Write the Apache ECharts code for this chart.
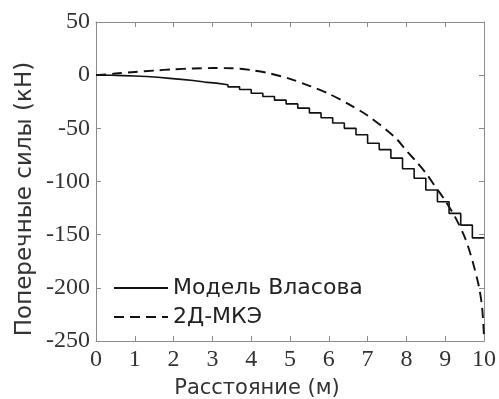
<!DOCTYPE html>
<html>
<head>
<meta charset="utf-8">
<script src="https://cdn.jsdelivr.net/npm/echarts@6/dist/echarts.min.js"></script>
<style>
  html, body { margin: 0; padding: 0; background: #fff; }
  #chart { width: 499px; height: 399px; }
</style>
</head>
<body>
<div id="chart"></div>
<script>
// Vlasov model: piecewise-constant shear force, each value holds from its x to the next x
const vlasovX = [0, 0.1, 0.4, 0.7, 1.0, 1.3, 1.6, 1.9, 2.2, 2.5, 2.8, 3.1, 3.4, 3.7, 4.0, 4.3, 4.6, 4.9,
                 5.2, 5.5, 5.8, 6.1, 6.4, 6.7, 7.0, 7.3, 7.6, 7.9, 8.2, 8.5, 8.8, 9.1, 9.4, 9.7, 10];
const vlasovY = [0, -0.1, -0.4, -0.8, -1.3, -2, -3, -4, -5, -6.5, -7.5, -9, -11, -13.5, -17, -20, -23.5, -27,
                 -31, -35.5, -40, -45, -50, -56, -64, -70, -78, -88, -97, -108, -119, -130, -141, -153, -153];

// 2D FEM: continuous curve
const femX = [0, 0.5, 1, 1.5, 2, 2.5, 3, 3.5, 4, 4.5, 5, 5.5, 6, 6.5, 7, 7.5, 7.75, 8, 8.25, 8.5,
              8.75, 9, 9.25, 9.5, 9.65, 9.75, 9.87, 9.95, 10];
const femY = [0, 1.5, 3, 4.3, 5.5, 6.3, 6.7, 6.5, 4.8, 1.5, -3.5, -10, -17.5, -27, -38, -52, -60, -71, -81, -92,
              -105, -118, -133, -152, -168, -181, -199, -218, -245];

const seriesNames = ['Модель Власова', '2Д-МКЭ'];
const xTitle = 'Расстояние (м)';
const yTitle = 'Поперечные силы (кН)';

const pairs = (xs, ys) => xs.map((x, i) => [x, ys[i]]);

const axisGray = '#8c8c8c';
const serifFont = 'Liberation Serif';
const sansFont = 'DejaVu Sans';

const chart = echarts.init(document.getElementById('chart'), null, { renderer: 'canvas' });

// boxed frame: all four sides with inward ticks
const frameAxis = {
  axisLine: { show: true, onZero: false, lineStyle: { color: axisGray, width: 1 } },
  axisTick: { show: true, inside: true, length: 5, lineStyle: { color: axisGray } },
  splitLine: { show: false }
};

// serif numerals for the tick labels
const tickLabel = (margin) => ({
  margin: margin, fontFamily: serifFont, fontSize: 24, color: '#333'
});

chart.setOption({
  animation: false,
  backgroundColor: '#fff',
  grid: { left: 96, right: 14, top: 22, bottom: 58, containLabel: false },
  legend: {
    left: 113, top: 277, orient: 'vertical', padding: 0,
    itemWidth: 54, itemHeight: 22, itemGap: 7,
    itemStyle: { opacity: 0, borderWidth: 0 },
    textStyle: { fontFamily: sansFont, fontSize: 22, color: '#222' },
    data: seriesNames
  },
  graphic: [
    {
      type: 'text', x: 257, y: 389,
      style: { text: xTitle, font: '21px "DejaVu Sans", sans-serif', fill: '#333',
               align: 'center', verticalAlign: 'middle' }
    },
    {
      type: 'text', x: 25, y: 199, rotation: Math.PI / 2,
      style: { text: yTitle, font: '23px "DejaVu Sans", sans-serif', fill: '#333',
               align: 'center', verticalAlign: 'middle' }
    }
  ],
  xAxis: [
    Object.assign({
      type: 'value', min: 0, max: 10, interval: 1, position: 'bottom',
      axisLabel: tickLabel(7)
    }, frameAxis),
    Object.assign({
      type: 'value', min: 0, max: 10, interval: 1, position: 'top',
      axisLabel: { show: false }
    }, frameAxis)
  ],
  yAxis: [
    Object.assign({
      type: 'value', min: -250, max: 50, interval: 50, position: 'left',
      axisLabel: tickLabel(6)
    }, frameAxis),
    Object.assign({
      type: 'value', min: -250, max: 50, interval: 50, position: 'right',
      axisLabel: { show: false }
    }, frameAxis)
  ],
  series: [
    {
      name: seriesNames[0], type: 'line', step: 'end', showSymbol: false, symbol: 'none',
      data: pairs(vlasovX, vlasovY),
      lineStyle: { color: '#111', width: 1.6, type: 'solid' },
      itemStyle: { color: '#111' }
    },
    {
      name: seriesNames[1], type: 'line', smooth: 0.3, showSymbol: false, symbol: 'none',
      data: pairs(femX, femY),
      lineStyle: { color: '#111', width: 1.9, type: [10, 6] },
      itemStyle: { color: '#111' }
    }
  ]
});
</script>
</body>
</html>
